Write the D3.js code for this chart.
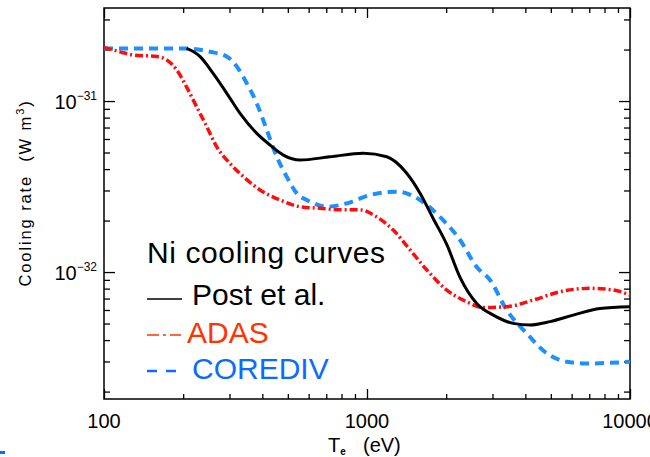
<!DOCTYPE html>
<html>
<head>
<meta charset="utf-8">
<script src="https://cdn.jsdelivr.net/npm/d3@7"></script>
<style>
body { margin: 0; background: #fff; }
svg { display: block; font-family: "Liberation Sans", Arial, sans-serif; }
</style>
</head>
<body>
<div id="chart"></div>
<script>

// Ni cooling rate (W m^3) against electron temperature (eV)
var tempPost = [206, 232, 260, 293, 329, 381, 428, 481, 556, 723, 968, 1189, 1416, 1591, 1787, 2010, 2258, 2613, 3022, 3599, 4166, 4965, 6086, 7686, 10000];
var ratePost = [2.03e-31, 1.82e-31, 1.45e-31, 1.11e-31, 8.47e-32, 6.47e-32, 5.53e-32, 4.83e-32, 4.52e-32, 4.72e-32, 4.95e-32, 4.72e-32, 3.78e-32, 2.89e-32, 2.05e-32, 1.45e-32, 9.3e-33, 6.55e-33, 5.6e-33, 5.01e-33, 4.9e-33, 5.13e-33, 5.6e-33, 6.13e-33, 6.27e-33];

var tempAdas = [100, 115, 129, 159, 173, 189, 206, 225, 246, 268, 301, 339, 392, 467, 556, 663, 790, 940, 1089, 1259, 1457, 1687, 2010, 2393, 2768, 3398, 4290, 5416, 7040, 8640, 10000];
var rateAdas = [2.06e-31, 1.94e-31, 1.86e-31, 1.82e-31, 1.74e-31, 1.52e-31, 1.21e-31, 9.26e-32, 7.07e-32, 5.41e-32, 4.32e-32, 3.61e-32, 3.02e-32, 2.64e-32, 2.41e-32, 2.36e-32, 2.31e-32, 2.31e-32, 2.1e-32, 1.76e-32, 1.35e-32, 1.03e-32, 7.85e-33, 6.7e-33, 6.2e-33, 6.27e-33, 6.86e-33, 7.67e-33, 8.03e-33, 7.85e-33, 7.34e-33];

var tempCorediv = [100, 122, 206, 253, 293, 320, 349, 381, 416, 454, 495, 548, 590, 703, 837, 1027, 1297, 1591, 1895, 2258, 2613, 2936, 3398, 4047, 4823, 5746, 6844, 10000];
var rateCorediv = [2.03e-31, 2.03e-31, 2.03e-31, 1.94e-31, 1.82e-31, 1.59e-31, 1.27e-31, 9.69e-32, 6.77e-32, 4.72e-32, 3.61e-32, 2.82e-32, 2.64e-32, 2.41e-32, 2.52e-32, 2.82e-32, 2.95e-32, 2.64e-32, 2.1e-32, 1.54e-32, 1.07e-32, 8.98e-33, 6.0e-33, 4.38e-33, 3.35e-33, 2.99e-33, 2.92e-33, 2.99e-33];

// axis ticks and labels
var xMajor = [100, 1000, 10000];
var xLabels = ["100", "1000", "10000"];
var yMajor = [1e-32, 1e-31];
var yExponents = ["\u221232", "\u221231"];

var legendTitle = "Ni cooling curves";
var legendNames = ["Post et al.", "ADAS", "COREDIV"];

function init(){

	var w = 650;
	var h = 457;
	var left = 104, right = 630, top = 8, bottom = 399;

	var svg = d3.select("#chart")
				.append("svg")
				.attr("width", w)
				.attr("height", h);

	var xScale = d3.scaleLog()
					.domain([100, 10000])
					.range([left, right]);

	var yScale = d3.scaleLog()
					.domain([1.81e-33, 3.5e-31])
					.range([bottom, top]);

	var xMinor = xScale.ticks().filter(function(d){ return xMajor.indexOf(d) < 0; });
	var yMinor = yScale.ticks().filter(function(d){
		return !yMajor.some(function(m){ return Math.abs(d / m - 1) < 1e-6; });
	});

	// ticks on all four sides, pointing inward
	function ticks(axis, values, size, transform){
		var g = svg.append("g")
			.attr("transform", transform)
			.call(axis.tickValues(values).tickSize(-size).tickFormat(""));
		g.select(".domain").remove();
		g.selectAll("line").attr("stroke", "#000").attr("stroke-width", 1.3);
	}
	ticks(d3.axisBottom(xScale), xMinor, 5, "translate(0," + bottom + ")");
	ticks(d3.axisBottom(xScale), xMajor, 10, "translate(0," + bottom + ")");
	ticks(d3.axisTop(xScale), xMinor, 5, "translate(0," + top + ")");
	ticks(d3.axisTop(xScale), xMajor, 10, "translate(0," + top + ")");
	ticks(d3.axisLeft(yScale), yMinor, 6, "translate(" + left + ",0)");
	ticks(d3.axisLeft(yScale), yMajor, 11, "translate(" + left + ",0)");
	ticks(d3.axisRight(yScale), yMinor, 6, "translate(" + right + ",0)");
	ticks(d3.axisRight(yScale), yMajor, 11, "translate(" + right + ",0)");

	// frame
	svg.append("rect")
		.attr("x", left)
		.attr("y", top)
		.attr("width", right - left)
		.attr("height", bottom - top)
		.attr("fill", "none")
		.attr("stroke", "#000")
		.attr("stroke-width", 1.5);

	// x tick labels
	svg.selectAll(".xlab")
		.data(xMajor)
		.enter()
		.append("text")
		.attr("x", function(d){ return xScale(d); })
		.attr("y", 428)
		.attr("text-anchor", "middle")
		.attr("font-size", 20)
		.text(function(d, i){ return xLabels[i]; });

	// y tick labels, 10 with exponent
	var ylab = svg.selectAll(".ylab")
		.data(yMajor)
		.enter()
		.append("text")
		.attr("x", 97)
		.attr("y", function(d){ return yScale(d) + 8; })
		.attr("text-anchor", "end")
		.attr("font-size", 20);
	ylab.append("tspan").text("10");
	ylab.append("tspan")
		.attr("dy", -9)
		.attr("font-size", 12)
		.text(function(d, i){ return yExponents[i]; });

	// axis titles
	var xt = svg.append("text")
		.attr("x", 328)
		.attr("y", 452)
		.attr("font-size", 20);
	xt.append("tspan").text("T");
	xt.append("tspan").attr("dy", 3).attr("font-size", 10).attr("font-weight", "bold").text("e");
	xt.append("tspan").attr("x", 363).attr("dy", -3).text("(eV)");

	var yt = svg.append("text")
		.attr("transform", "translate(31,193) rotate(-90)")
		.attr("text-anchor", "middle")
		.attr("font-size", 16.5)
		.attr("letter-spacing", 1.9);
	yt.append("tspan").text("Cooling rate\u00a0\u00a0(W m");
	yt.append("tspan").attr("dy", -7).attr("font-size", 11).text("3");
	yt.append("tspan").attr("dy", 7).text(")");

	// curves
	svg.append("clipPath")
		.attr("id", "plot")
		.append("rect")
		.attr("x", left)
		.attr("y", top)
		.attr("width", right - left)
		.attr("height", bottom - top);

	var line = d3.line()
		.x(function(d){ return xScale(d[0]); })
		.y(function(d){ return yScale(d[1]); })
		.curve(d3.curveMonotoneX);

	var series = [
		{ data: d3.zip(tempCorediv, rateCorediv), color: "#1e8fff", width: 4, dash: "9,6" },
		{ data: d3.zip(tempAdas, rateAdas), color: "#ff0d0d", width: 3.5, dash: "8,3,2,3" },
		{ data: d3.zip(tempPost, ratePost), color: "#000", width: 3, dash: null }
	];

	svg.append("g")
		.attr("clip-path", "url(#plot)")
		.selectAll("path")
		.data(series)
		.enter()
		.append("path")
		.attr("d", function(d){ return line(d.data); })
		.attr("fill", "none")
		.attr("stroke", function(d){ return d.color; })
		.attr("stroke-width", function(d){ return d.width; })
		.attr("stroke-dasharray", function(d){ return d.dash; });

	// legend
	svg.append("text")
		.attr("x", 147)
		.attr("y", 263)
		.attr("font-size", 30)
		.attr("letter-spacing", 0.6)
		.text(legendTitle);

	var legColors = ["#000", "#ff3300", "#0a6cff"];
	var legY = [305, 343, 379];
	var legX = [192, 187, 192];

	svg.selectAll(".leg")
		.data(legendNames)
		.enter()
		.append("text")
		.attr("x", function(d, i){ return legX[i]; })
		.attr("y", function(d, i){ return legY[i]; })
		.attr("font-size", 30)
		.attr("fill", function(d, i){ return legColors[i]; })
		.text(function(d){ return d; });

	// legend symbols
	svg.append("line")
		.attr("x1", 147).attr("x2", 182)
		.attr("y1", 299).attr("y2", 299)
		.attr("stroke", "#000").attr("stroke-width", 1.6);

	svg.append("line")
		.attr("x1", 147).attr("x2", 181)
		.attr("y1", 335).attr("y2", 335)
		.attr("stroke", "#ff3300").attr("stroke-width", 1.4)
		.attr("stroke-dasharray", "12,4,3,4,12");
	svg.append("line")
		.attr("x1", 147).attr("x2", 178)
		.attr("y1", 371).attr("y2", 371)
		.attr("stroke", "#0a6cff").attr("stroke-width", 2.5)
		.attr("stroke-dasharray", "10,9");

	// small blue mark at the lower left corner of the picture
	svg.append("rect")
		.attr("x", 0).attr("y", 451)
		.attr("width", 5).attr("height", 3)
		.attr("fill", "#0a6cff");
}

window.onload = init;
</script>
</body>
</html>
